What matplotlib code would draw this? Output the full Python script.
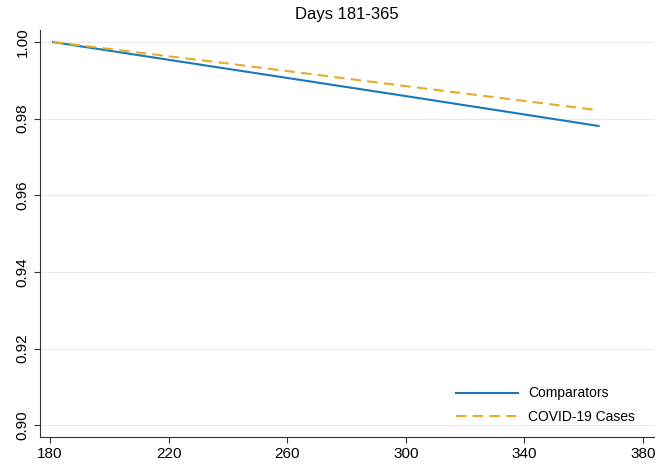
import numpy as np
import matplotlib
matplotlib.use('Agg')
from matplotlib import pyplot as plt

plt.rcParams['font.family'] = ['Liberation Sans', 'DejaVu Sans']

days = [181, 240, 300, 365]
comparators = [1.000, 0.9930, 0.9859, 0.9781]
covid_cases = [1.000, 0.9944, 0.9885, 0.9822]

xticks = [180, 220, 260, 300, 340, 380]
yticks = [0.90, 0.92, 0.94, 0.96, 0.98, 1.00]

fig = plt.figure(figsize=(6.71, 4.66), dpi=100)
ax = fig.add_axes([0.0596, 0.0622, 0.915, 0.873])

ax.plot(days, comparators, color='#1a78b8', lw=1.5, label='Comparators')
ax.plot(days, covid_cases, color='#e8a92c', lw=1.5, ls=(0, (5, 3)), label='COVID-19 Cases')

ax.set_xlim(176.6, 383.7)
ax.set_ylim(0.8969, 1.0031)
ax.set_xticks(xticks)
ax.set_yticks(yticks)
ax.set_yticklabels(['%.2f' % v for v in yticks], rotation=90, va='center')
ax.tick_params(labelsize=11, length=4, color='#333333')
ax.grid(axis='y', color='#ebebeb', lw=0.8)
ax.set_axisbelow(True)
for s in ['top', 'right']:
    ax.spines[s].set_visible(False)
for s in ['left', 'bottom']:
    ax.spines[s].set_color('#333333')

ax.set_title('Days 181-365', fontsize=12, pad=8)
ax.legend(loc='lower right', frameon=False, fontsize=10, handlelength=4.5,
          handletextpad=0.7, labelspacing=0.7, borderaxespad=0,
          bbox_to_anchor=(0.978, 0.018))

fig.savefig('out.png', dpi=100)
